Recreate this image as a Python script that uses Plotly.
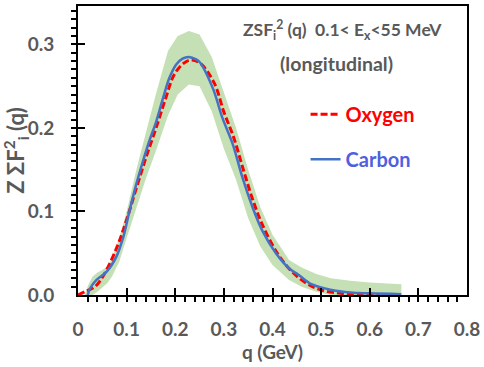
import plotly.graph_objects as go

# ── data ────────────────────────────────────────────────────────
# Carbon (solid blue)
q_carbon = [0.020, 0.025, 0.038, 0.059, 0.079, 0.093, 0.106, 0.120, 0.134, 0.147,
            0.161, 0.175, 0.188, 0.202, 0.215, 0.228, 0.243, 0.250, 0.277, 0.297,
            0.318, 0.338, 0.359, 0.379, 0.407, 0.434, 0.454, 0.480, 0.522, 0.560,
            0.600, 0.665]
v_carbon = [0.000, 0.008, 0.018, 0.028, 0.046, 0.069, 0.101, 0.133, 0.161, 0.185,
            0.208, 0.236, 0.260, 0.276, 0.283, 0.285, 0.282, 0.279, 0.248, 0.212,
            0.181, 0.141, 0.105, 0.077, 0.050, 0.032, 0.024, 0.013, 0.006, 0.003,
            0.002, 0.001]

# Oxygen (dashed red)
q_oxygen = [0.000, 0.014, 0.035, 0.055, 0.082, 0.100, 0.120, 0.140, 0.160, 0.180,
            0.200, 0.228, 0.250, 0.280, 0.300, 0.320, 0.340, 0.360, 0.380, 0.410,
            0.440, 0.470, 0.500, 0.540, 0.580, 0.620]
v_oxygen = [0.000, 0.004, 0.010, 0.026, 0.060, 0.090, 0.128, 0.165, 0.199, 0.235,
            0.266, 0.281, 0.278, 0.254, 0.219, 0.189, 0.150, 0.113, 0.083, 0.050,
            0.028, 0.014, 0.006, 0.002, 0.000, 0.000]

# uncertainty band (green)
q_band = [0.014, 0.021, 0.030, 0.040, 0.050, 0.060, 0.070, 0.085, 0.100, 0.120,
          0.140, 0.160, 0.185, 0.205, 0.228, 0.250, 0.275, 0.300, 0.325, 0.350,
          0.375, 0.400, 0.434, 0.460, 0.490, 0.520, 0.560, 0.600, 0.665]
band_hi = [0.000, 0.012, 0.022, 0.027, 0.030, 0.034, 0.044, 0.068, 0.100, 0.150,
           0.195, 0.240, 0.292, 0.310, 0.316, 0.312, 0.285, 0.242, 0.200, 0.150,
           0.105, 0.072, 0.042, 0.033, 0.025, 0.020, 0.017, 0.015, 0.013]
band_lo = [0.000, 0.000, 0.000, 0.004, 0.009, 0.014, 0.022, 0.040, 0.068, 0.105,
           0.140, 0.172, 0.215, 0.240, 0.252, 0.250, 0.220, 0.175, 0.138, 0.092,
           0.058, 0.036, 0.018, 0.010, 0.004, 0.000, 0.000, 0.000, 0.000]

x_ticks = [0, 0.1, 0.2, 0.3, 0.4, 0.5, 0.6, 0.7, 0.8]
x_tick_labels = ['0', '0.1', '0.2', '0.3', '0.4', '0.5', '0.6', '0.7', '0.8']
y_ticks = [0.0, 0.1, 0.2, 0.3]
y_tick_labels = ['0.0', '0.1', '0.2', '0.3']

GRAY = '#595959'
FONT = 'Lato'

fig = go.Figure()

# band: lower edge then upper edge filled to it
fig.add_trace(go.Scatter(
    x=q_band, y=band_lo, mode='lines', line=dict(width=0),
    showlegend=False, hoverinfo='skip'))
fig.add_trace(go.Scatter(
    x=q_band, y=band_hi, mode='lines', line=dict(width=0),
    fill='tonexty', fillcolor='#C5E0B4', showlegend=False, hoverinfo='skip'))

fig.add_trace(go.Scatter(
    x=q_oxygen, y=v_oxygen, mode='lines',
    name="<span style='color:#FF0000'><b>Oxygen</b></span>",
    legendgroup='o',
    line=dict(color='#FF0000', width=3, dash='7px,3px', shape='spline')))
fig.add_trace(go.Scatter(
    x=q_carbon, y=v_carbon, mode='lines',
    name="<span style='color:#4F5FE0'><b>Carbon</b></span>",
    legendgroup='c',
    line=dict(color='#4472C4', width=2.5, shape='spline')))

# in-plot heading, two lines
fig.add_annotation(
    x=0.68, y=0.917, xref='paper', yref='paper', xanchor='center', yanchor='middle',
    text='<b>ZSF<sub>i</sub><sup>2</sup> (q)&nbsp;&nbsp;0.1&lt; E<sub>x</sub>&lt;55 MeV</b>',
    showarrow=False,
    font=dict(family=FONT, size=17.5, color=GRAY))
fig.add_annotation(
    x=0.664, y=0.8, xref='paper', yref='paper', xanchor='center', yanchor='middle',
    text='<b>(longitudinal)</b>', showarrow=False,
    font=dict(family=FONT, size=19.5, color=GRAY))

fig.update_layout(
    width=484, height=367,
    margin=dict(l=78, r=15, t=4, b=72),
    paper_bgcolor='white', plot_bgcolor='white',
    font=dict(family=FONT, size=19, color=GRAY),
    legend=dict(
        x=0.585, y=0.693, xanchor='left', yanchor='top',
        bgcolor='rgba(0,0,0,0)', tracegroupgap=16,
        font=dict(family=FONT, size=20),
        itemwidth=30,
    ),
    xaxis=dict(
        range=[0, 0.8], showgrid=False, zeroline=False,
        showline=True, linecolor='black', linewidth=2, mirror=True,
        tickvals=x_ticks, ticktext=x_tick_labels,
        ticks='inside', ticklen=7, tickwidth=2, tickcolor='black',
        ticklabelstandoff=16,
        tickfont=dict(family=FONT, size=19, color=GRAY, weight='bold'),
        minor=dict(dtick=0.02, ticks='outside', ticklen=5, tickwidth=1.5,
                   tickcolor='black', showgrid=False),
        title=dict(text='<b>q (GeV)</b>', standoff=3,
                   font=dict(family=FONT, size=19, color=GRAY)),
    ),
    yaxis=dict(
        range=[0, 0.346], showgrid=False, zeroline=False,
        showline=True, linecolor='black', linewidth=2, mirror=True,
        tickvals=y_ticks, ticktext=y_tick_labels,
        ticks='inside', ticklen=7, tickwidth=2, tickcolor='black',
        ticklabelstandoff=18,
        tickfont=dict(family=FONT, size=19, color=GRAY, weight='bold'),
        minor=dict(dtick=0.01, ticks='outside', ticklen=5, tickwidth=1.5,
                   tickcolor='black', showgrid=False),
        title=dict(text='<b>Z ΣF<sup>2</sup><sub>i</sub> (q)</b>', standoff=3,
                   font=dict(family=FONT, size=22, color=GRAY)),
    ),
)

fig.write_html('out.html', config={'displayModeBar': False},
               post_script="document.body.style.margin='0';")
